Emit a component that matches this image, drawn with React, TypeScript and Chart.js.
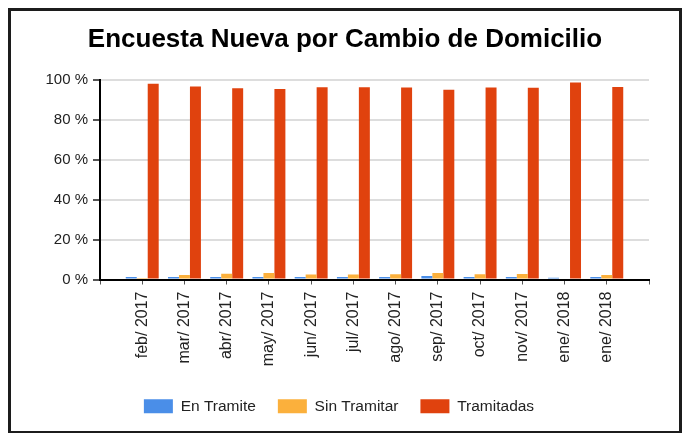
import React, { useEffect, useRef } from "react";
import { Chart, registerables } from "chart.js";

Chart.register(...registerables);

const TITLE = "Encuesta Nueva por Cambio de Domicilio";
const months = [
  "feb/ 2017", "mar/ 2017", "abr/ 2017", "may/ 2017", "jun/ 2017", "jul/ 2017",
  "ago/ 2017", "sep/ 2017", "oct/ 2017", "nov/ 2017", "ene/ 2018", "ene/ 2018",
];
const enTramite = [1.2, 1.2, 1.3, 1.3, 1.2, 1.2, 1.3, 1.8, 1.3, 1.2, 0.9, 1.3];
const sinTramitar = [0.8, 2.2, 2.9, 3.3, 2.5, 2.5, 2.6, 3.2, 2.6, 2.8, 0, 2.3];
const tramitadas = [98.0, 96.6, 95.8, 95.4, 96.3, 96.3, 96.1, 95.0, 96.1, 96.0, 98.7, 96.4];
const yTicks = [0, 20, 40, 60, 80, 100];

const COLORS = { blue: "#4a8ee8", orange: "#fbb03c", red: "#e0420e" };

const pad = (arr: (number | null)[]) => [null, ...arr, null];

const legendShift = {
  id: "legendShift",
  afterLayout(chart: any) {
    if (chart.legend) {
      chart.legend.left -= 6;
      chart.legend.right -= 6;
    }
  },
};

export default function App() {
  const ref = useRef<HTMLCanvasElement | null>(null);

  useEffect(() => {
    if (!ref.current) return;
    const font = 'Arial, "Liberation Sans", sans-serif';
    const chart = new Chart(ref.current, {
      type: "bar",
      data: {
        labels: ["", ...months, ""],
        datasets: [
          { label: "En Tramite", data: pad(enTramite), backgroundColor: COLORS.blue },
          { label: "Sin Tramitar", data: pad(sinTramitar), backgroundColor: COLORS.orange },
          { label: "Tramitadas", data: pad(tramitadas), backgroundColor: COLORS.red },
        ],
      },
      plugins: [legendShift],
      options: {
        responsive: false,
        animation: false,
        devicePixelRatio: 1,
        layout: { padding: { left: 0, right: 0, top: 0, bottom: 7 } },
        datasets: { bar: { categoryPercentage: 0.78, barPercentage: 1 } },
        scales: {
          x: {
            type: "category",
            offset: false,
            grid: {
              offset: false,
              drawOnChartArea: false,
              drawTicks: true,
              tickLength: 5,
              tickColor: "#555",
            },
            border: { color: "#000", width: 2 },
            ticks: {
              autoSkip: false,
              minRotation: 90,
              maxRotation: 90,
              padding: 7,
              color: "#222",
              font: { family: font, size: 16 },
            },
            afterFit: (s: any) => {
              s.height = 97;
            },
          },
          y: {
            min: 0,
            max: 100,
            afterBuildTicks: (s: any) => {
              s.ticks = yTicks.map((v) => ({ value: v }));
            },
            grid: {
              color: "#dddddd",
              lineWidth: 2,
              tickLength: 7,
              tickColor: "#555",
            },
            border: { color: "#000", width: 2 },
            ticks: {
              padding: 5,
              color: "#222",
              font: { family: font, size: 15 },
              callback: (v: any) => `${v} %`,
            },
            afterFit: (s: any) => {
              s.width = 89;
            },
          },
          rightSpace: {
            type: "linear",
            position: "right",
            display: true,
            min: 0,
            max: 1,
            grid: { display: false, drawTicks: false },
            border: { display: false },
            ticks: { display: false },
            afterFit: (s: any) => {
              s.width = 30;
            },
          },
        },
        plugins: {
          title: {
            display: true,
            text: TITLE,
            color: "#000",
            font: { family: font, size: 26, weight: "bold" },
            padding: { top: 13, bottom: 24.6 },
          },
          legend: {
            display: true,
            position: "bottom",
            labels: {
              boxWidth: 29,
              boxHeight: 14,
              padding: 22,
              color: "#222",
              font: { family: font, size: 15.5 },
            },
          },
          tooltip: { enabled: false },
        },
      },
    });
    return () => chart.destroy();
  }, []);

  return (
    <div
      style={{
        position: "absolute",
        left: 8,
        top: 8,
        width: 674,
        height: 426,
        border: "3px solid #1c1c1c",
        boxSizing: "border-box",
        background: "#fff",
      }}
    >
      <canvas
        ref={ref}
        width={668}
        height={420}
        style={{ position: "absolute", left: 0, top: 0, width: 668, height: 420 }}
      />
    </div>
  );
}
